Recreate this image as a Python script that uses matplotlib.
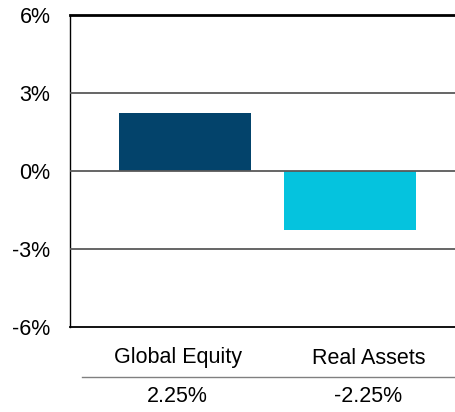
import matplotlib
matplotlib.use("Agg")
import matplotlib.pyplot as plt
from matplotlib.lines import Line2D

plt.rcParams['font.family'] = ['Liberation Sans', 'DejaVu Sans']

# Data
categories = ["Global Equity", "Real Assets"]
values = [2.25, -2.25]
value_labels = ["2.25%", "-2.25%"]
colors = ["#03436B", "#05C3DE"]
yticks = [-6, -3, 0, 3, 6]

W, H = 455, 412
fig = plt.figure(figsize=(W / 100, H / 100), dpi=100)
ax = fig.add_axes([70/W, 85/H, 385/W, 312/H])

x = list(range(len(categories)))
ax.bar(x, values, width=0.8, color=colors, zorder=2)

ax.set_ylim(-6, 6)
ax.set_xlim(-0.697, 1.636)
ax.set_yticks(yticks)
ax.set_yticklabels([f"{t}%" for t in yticks], fontsize=15.5)
ax.tick_params(axis='y', length=0, pad=14)
ax.set_xticks([])

# horizontal gridlines drawn over bars
for t in [-3, 0, 3]:
    ax.axhline(t, color="#595959", lw=1.3, zorder=3)

ax.spines["right"].set_visible(False)
ax.spines["top"].set_linewidth(2)
ax.spines["bottom"].set_linewidth(1.3)
ax.spines["left"].set_linewidth(1.0)

# table below the chart: category row, separator, value row
col_left, col_w = 82, 191
for i, (cat, lab) in enumerate(zip(categories, value_labels)):
    cx = (col_left + col_w * (i + 0.5)) / W
    fig.text(cx, (H - 358) / H, cat, ha="center", va="center", fontsize=15.5)
    fig.text(cx, (H - 397) / H, lab, ha="center", va="center", fontsize=15.5)

fig.add_artist(Line2D([col_left / W, 1.0], [(H - 377) / H] * 2,
                      transform=fig.transFigure, color="#808080", lw=1))

fig.savefig("out.png", dpi=100)
